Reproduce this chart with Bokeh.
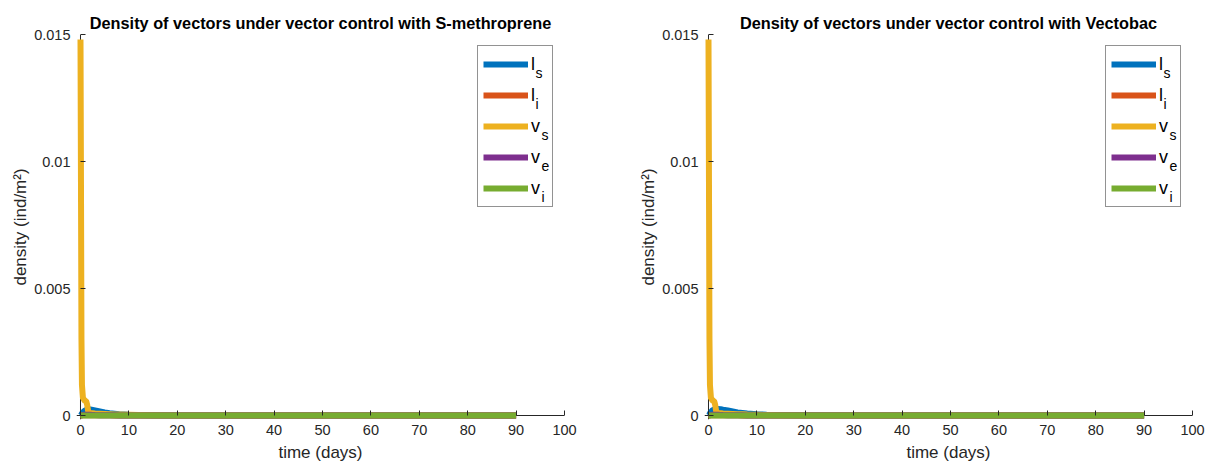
from bokeh.plotting import figure
from bokeh.models import (Range1d, FixedTicker, CustomJSTickFormatter, Legend,
                          LegendItem, Label, Span)
from bokeh.layouts import row
from bokeh.embed import file_html
from bokeh.resources import INLINE

# ---------------- data ----------------
t_days = [0, 0.1, 0.2, 0.3, 0.5, 0.8, 1.0, 1.2, 1.4, 1.6, 2, 2.5, 3, 4, 5, 6,
          7, 8, 10, 12, 15, 20, 30, 40, 50, 60, 70, 80, 90]

# S-methroprene
meth_ls = [0, 0.00002, 0.00005, 0.00008, 0.00013, 0.00018, 0.0002, 0.00022,
           0.00023, 0.00024, 0.00024, 0.00022, 0.0002, 0.00016, 0.00012,
           0.00009, 0.00007, 0.00005, 0.00003, 0.00002, 0.00001, 0.000005,
           0, 0, 0, 0, 0, 0, 0]
meth_li = [0, 0, 0.000002, 0.000004, 0.000006, 0.000008, 0.00001, 0.00001,
           0.00001, 0.00001, 0.00001, 0.00001, 0.000009, 0.000008, 0.000007,
           0.000006, 0.000005, 0.000004, 0.000003, 0.000002, 0.000001, 0,
           0, 0, 0, 0, 0, 0, 0]
meth_vs = [0.0148, 0.009, 0.003, 0.0012, 0.0007, 0.0006, 0.00058, 0.00055,
           0.0004, 0.00015, 0.0001, 0.00009, 0.00008, 0.00007, 0.00006,
           0.00005, 0.00004, 0.00004, 0.00003, 0.00002, 0.00001, 0.000005,
           0, 0, 0, 0, 0, 0, 0]
meth_ve = [0, 0.000005, 0.00001, 0.000015, 0.00002, 0.00003, 0.00003,
           0.00003, 0.00003, 0.00003, 0.00003, 0.000025, 0.00002, 0.000015,
           0.00001, 0.000008, 0.000006, 0.000005, 0.000003, 0.000002,
           0.000001, 0, 0, 0, 0, 0, 0, 0, 0]
meth_vi = [0] * 29

# Vectobac
vect_ls = [0, 0.00002, 0.00005, 0.00009, 0.00014, 0.0002, 0.00022, 0.00024,
           0.00025, 0.00026, 0.00026, 0.00025, 0.00023, 0.0002, 0.00016,
           0.00012, 0.0001, 0.00008, 0.00005, 0.00003, 0.00002, 0.00001,
           0, 0, 0, 0, 0, 0, 0]
vect_li = meth_li
vect_vs = [0.0148, 0.009, 0.003, 0.0012, 0.0007, 0.0006, 0.00058, 0.00055,
           0.0004, 0.00015, 0.0001, 0.00009, 0.00008, 0.00007, 0.00006,
           0.00005, 0.00005, 0.00004, 0.00003, 0.00002, 0.00001, 0.000005,
           0, 0, 0, 0, 0, 0, 0]
vect_ve = meth_ve
vect_vi = [0] * 29

series_names = ["l", "l", "v", "v", "v"]
series_subs = ["s", "i", "s", "e", "i"]
colors = ["#0072BD", "#D95319", "#EDB120", "#7E2F8E", "#77AC30"]
x_ticks = [0, 10, 20, 30, 40, 50, 60, 70, 80, 90, 100]
y_ticks = [0, 0.005, 0.01, 0.015]

FONT = "Liberation Sans"
AX = "#262626"

X_PAD = 0.826      # ~4 px of room left of t=0 so thick lines are not clipped
Y_PAD = 0.000157   # ~4 px of room below 0


def make_plot(title, series, left, right):
    p = figure(frame_width=488, frame_height=385,
               x_range=Range1d(-X_PAD, 100),
               y_range=Range1d(-Y_PAD, 0.015), output_backend="svg",
               toolbar_location=None, min_border_left=left,
               min_border_right=right, min_border_top=34,
               min_border_bottom=44, title=title)
    p.title.text_font = FONT
    p.title.text_font_size = "16.3px"
    p.title.text_font_style = "bold"
    p.title.align = "center"
    p.title.standoff = 6
    p.title.text_color = "#000000"
    p.grid.visible = False
    p.outline_line_color = None
    p.background_fill_color = "white"
    p.border_fill_color = "white"

    for ax in (p.xaxis[0], p.yaxis[0]):
        ax.axis_line_color = None
        ax.major_tick_line_color = AX
        ax.major_tick_in = 9
        ax.major_tick_out = -4
        ax.minor_tick_line_color = None
        ax.major_label_text_font = FONT
        ax.major_label_text_font_size = "14.5px"
        ax.major_label_text_color = AX
        ax.axis_label_text_font = FONT
        ax.axis_label_text_font_size = "17px"
        ax.axis_label_text_font_style = "normal"
        ax.axis_label_text_color = AX
    p.xaxis.major_label_standoff = 5
    p.xaxis.axis_label_standoff = 5
    p.yaxis.major_label_standoff = 6
    p.yaxis.axis_label_standoff = 1
    p.xaxis.ticker = FixedTicker(ticks=x_ticks)
    p.yaxis.ticker = FixedTicker(ticks=y_ticks)
    p.yaxis.formatter = CustomJSTickFormatter(code="return tick.toString();")
    p.xaxis.axis_label = "time (days)"
    p.yaxis.axis_label = "density (ind/m²)"

    # axis lines through the data origin
    p.add_layout(Span(location=0, dimension="width", line_color=AX,
                      line_width=1, level="underlay"))
    p.add_layout(Span(location=0, dimension="height", line_color=AX,
                      line_width=1, level="underlay"))

    items = []
    for vals, col, name in zip(series, colors, series_names):
        r = p.line(t_days, vals, line_color=col, line_width=6,
                   line_join="round")
        items.append(LegendItem(label=name, renderers=[r]))

    leg = Legend(items=items, location="top_right", margin=11, padding=5,
                 spacing=5, glyph_width=45, glyph_height=26,
                 label_standoff=3, label_width=16,
                 label_text_font=FONT, label_text_font_size="18px",
                 label_text_color="#000000",
                 border_line_color=AX, border_line_width=1,
                 background_fill_alpha=0)
    p.add_layout(leg)

    # subscripts of the legend labels (frame-relative screen units)
    for i, (name, sub) in enumerate(zip(series_names, series_subs)):
        sx = 459 if name == "l" else 465
        p.add_layout(Label(x=sx, y=347 - 31 * i, x_units="screen",
                           y_units="screen", text=sub, text_font=FONT,
                           text_font_size="14px", text_color="#000000",
                           text_baseline="middle", text_align="left"))
    return p


p1 = make_plot("Density of vectors under vector control with S-methroprene",
               [meth_ls, meth_li, meth_vs, meth_ve, meth_vi], 76, 39)
p2 = make_plot("Density of vectors under vector control with Vectobac",
               [vect_ls, vect_li, vect_vs, vect_ve, vect_vi], 101, 15)

layout = row(p1, p2)
open("out.html", "w").write(file_html(layout, INLINE))
